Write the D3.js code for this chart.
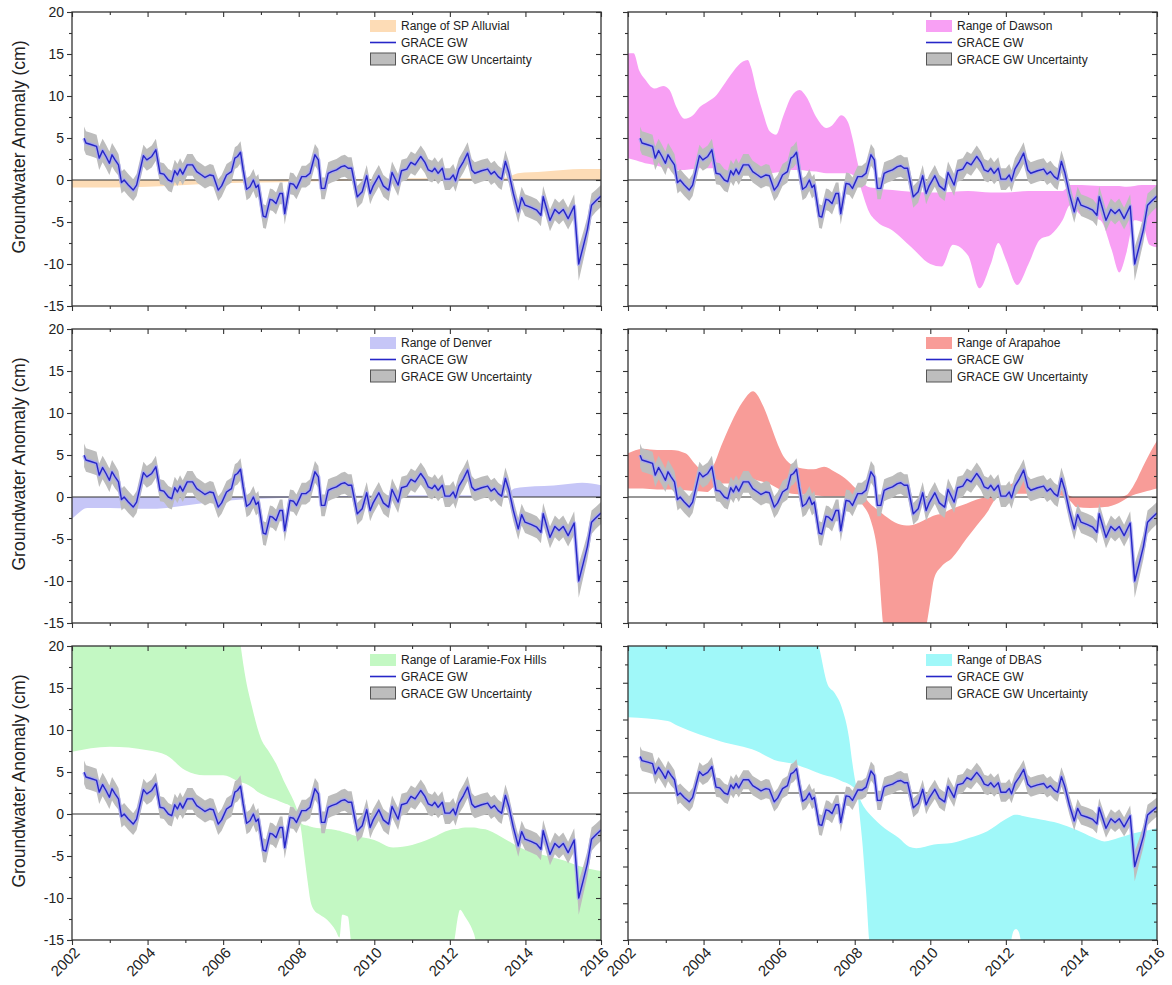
<!DOCTYPE html>
<html><head><meta charset="utf-8">
<script src="https://cdn.jsdelivr.net/npm/d3@7"></script>
<style>body{margin:0;background:#fff}svg{display:block}text{font-family:Arial,"Liberation Sans",sans-serif;fill:#222}</style>
</head><body><svg id="c" width="1172" height="985"></svg>
<script>
// ---------- GRACE groundwater anomaly (cm) ----------
const graceTime = [
 2002.32,2002.37,2002.52,2002.65,2002.72,2002.81,2002.90,2002.99,2003.06,2003.14,
 2003.23,2003.31,2003.38,2003.49,2003.62,2003.71,2003.89,2003.98,2004.11,2004.22,
 2004.33,2004.43,2004.55,2004.64,2004.72,2004.79,2004.86,2004.93,2005.05,2005.19,
 2005.30,2005.43,2005.52,2005.65,2005.74,2005.87,2005.96,2006.09,2006.22,2006.31,
 2006.38,2006.46,2006.53,2006.62,2006.71,2006.80,2006.87,2006.93,2007.06,2007.13,
 2007.24,2007.31,2007.40,2007.50,2007.57,2007.63,2007.77,2007.86,2007.94,2008.08,
 2008.19,2008.30,2008.43,2008.52,2008.60,2008.69,2008.78,2008.87,2009.00,2009.13,
 2009.22,2009.31,2009.40,2009.55,2009.68,2009.80,2009.89,2009.97,2010.12,2010.24,
 2010.38,2010.47,2010.63,2010.72,2010.86,2010.97,2011.08,2011.23,2011.34,2011.43,
 2011.53,2011.60,2011.69,2011.80,2011.87,2012.00,2012.09,2012.15,2012.24,2012.36,
 2012.47,2012.58,2012.66,2012.84,2013.00,2013.09,2013.18,2013.28,2013.37,2013.47,
 2013.56,2013.68,2013.81,2013.90,2013.99,2014.16,2014.30,2014.41,2014.47,2014.65,
 2014.78,2014.89,2015.00,2015.13,2015.29,2015.41,2015.53,2015.64,2015.75,2015.86,2016.00];
const graceGW = [
 4.96,4.4,4.2,4.0,2.6,3.5,2.8,2.0,3.0,2.4,
 1.8,-0.3,0.0,-0.6,-1.2,-0.6,2.9,2.4,2.8,3.6,
 0.8,0.7,0.0,-0.2,1.1,0.6,1.3,0.7,1.8,1.8,
 1.0,0.6,0.3,0.6,0.5,-1.2,-0.7,0.6,1.0,2.6,
 2.8,3.3,1.2,-1.1,-0.8,0.0,-0.9,-0.6,-4.3,-4.4,
 -2.3,-2.4,-2.8,-1.6,-1.6,-4.0,-0.4,-0.5,-1.0,0.4,
 0.4,0.8,3.0,2.4,-1.0,-1.0,0.8,1.0,1.2,1.6,
 1.7,1.4,1.4,-2.0,-1.4,0.5,-1.6,-0.7,0.5,-0.7,
 -1.2,0.9,-0.6,1.1,1.3,2.1,1.8,2.8,2.1,1.2,
 1.0,1.4,0.8,1.4,0.1,0.1,0.6,-0.1,1.3,2.2,
 3.2,1.2,0.8,1.1,1.3,0.7,1.0,0.4,0.1,2.2,
 0.9,-1.6,-3.8,-2.1,-3.0,-3.3,-3.6,-4.2,-2.0,-4.8,
 -3.5,-4.0,-3.5,-4.6,-3.1,-10.0,-7.9,-5.9,-3.0,-2.5,-1.9];
const graceUnc = [
 1.4,1.4,1.4,1.4,1.4,1.4,1.4,1.4,1.4,1.4,
 1.3,1.3,1.3,1.3,1.3,1.3,1.3,1.3,1.3,1.3,
 1.3,1.3,1.3,1.3,1.3,1.3,1.3,1.3,1.3,1.3,
 1.3,1.3,1.3,1.3,1.3,1.3,1.3,1.3,1.3,1.3,
 1.3,1.3,1.3,1.3,1.3,1.3,1.3,1.3,1.4,1.4,
 1.3,1.3,1.3,1.3,1.3,1.3,1.3,1.3,1.3,1.3,
 1.3,1.3,1.3,1.3,1.3,1.3,1.3,1.3,1.3,1.3,
 1.3,1.3,1.3,1.3,1.3,1.3,1.3,1.3,1.3,1.3,
 1.3,1.3,1.3,1.3,1.3,1.3,1.3,1.3,1.3,1.3,
 1.3,1.3,1.3,1.3,1.3,1.3,1.3,1.3,1.3,1.3,
 1.3,1.3,1.3,1.3,1.3,1.3,1.3,1.3,1.3,1.3,
 1.3,1.3,1.3,1.3,1.3,1.3,1.3,1.3,1.3,1.3,
 1.3,1.3,1.3,1.3,1.4,2.0,1.7,1.5,1.4,1.3,1.3];

// ---------- Aquifer ranges (cm) ----------
const spTime = [2002.0,2002.5,2003,2004,2005,2006,2007,2008,2009,2010,2011,2012,2013,2013.5,2013.8,2014.5,2015,2015.5,2016];
const spLo   = [-0.9,-0.9,-0.9,-0.8,-0.6,-0.4,-0.3,-0.2,-0.1,0,0,0,0,0,0,0,0,0,0];
const spHi   = [0,0,0,0,0,0,0,0.1,0.1,0.1,0.2,0.2,0.2,0.3,0.8,1.0,1.2,1.3,1.3];

const dwTime = [2002.0,2002.15,2002.3,2002.45,2002.7,2002.93,2003.1,2003.28,2003.5,2003.72,2003.9,2004.1,2004.3,2004.5,2004.78,2005.04,2005.17,2005.25,2005.4,2005.58,2005.75,2005.92,2006.1,2006.32,2006.54,2006.72,2006.98,2007.25,2007.4,2007.65,2007.82,2007.95,2008.08,2008.2,2008.35,2008.6,2009.0,2009.5,2010.0,2010.3,2010.6,2011.0,2011.3,2011.6,2011.8,2012.0,2012.3,2012.6,2012.9,2013.2,2013.5,2013.7,2014.0,2014.5,2014.8,2015.0,2015.2,2015.4,2015.6,2015.8,2016.0];
const dwHi = [15.1,15.1,13.0,12.0,10.9,11.2,10.7,8.7,7.3,7.7,8.7,9.3,9.9,11.1,12.9,14.1,14.3,13.5,10.7,7.9,5.8,5.4,7.5,9.9,10.7,9.9,7.5,6.2,6.5,7.7,6.9,4.8,2.0,0.0,-0.8,-1.0,-1.2,-1.4,-1.5,-1.5,-1.4,-1.3,-1.4,-1.5,-1.5,-1.5,-1.4,-1.3,-1.3,-1.3,-1.3,-0.6,-0.6,-0.7,-0.7,-0.7,-0.8,-0.7,-0.6,-0.6,-0.6];
const dwLo = [2.6,2.4,2.2,2.0,1.8,1.5,1.4,1.2,1.2,1.3,1.4,1.4,1.4,1.2,1.0,1.1,1.2,1.2,1.0,0.9,0.8,0.9,1.0,1.2,1.2,1.1,1.0,0.8,0.8,0.8,0.8,0.6,0.2,-1.5,-3.5,-5.0,-6.0,-8.0,-10.0,-10.3,-7.7,-9.0,-12.9,-10.0,-7.5,-9.5,-12.5,-10.0,-7.1,-6.5,-4.8,-3.0,-4.2,-4.8,-8.3,-11.0,-8.5,-4.8,-5.0,-7.7,-8.0];

const dvTime = [2002.0,2002.15,2002.4,2003,2004,2004.5,2005,2005.5,2006,2006.5,2007,2008,2009,2010,2011,2012,2013,2013.5,2013.7,2014,2014.5,2015,2015.5,2016];
const dvLo   = [-2.6,-2.0,-1.3,-1.3,-1.4,-1.3,-1.0,-0.7,-0.5,-0.3,-0.2,-0.1,0,0,0,0,0,0,0,0,0,0,0,0];
const dvHi   = [0,0,0,0,0,0,0,0,0,0,0.1,0.1,0.1,0.2,0.2,0.2,0.2,0.3,1.0,1.2,1.3,1.5,1.7,1.4];

const arTime = [2002.0,2002.39,2002.77,2003.15,2003.52,2003.8,2004.09,2004.27,2004.46,2004.74,2005.03,2005.31,2005.4,2005.59,2005.78,2005.97,2006.15,2006.34,2006.62,2006.91,2007.19,2007.47,2007.75,2008.03,2008.22,2008.41,2008.6,2008.79,2009.16,2009.44,2009.82,2009.91,2010.0,2010.1,2010.29,2010.57,2010.95,2011.23,2011.51,2011.7,2011.79,2011.98,2012.17,2012.36,2012.92,2013.39,2013.58,2013.77,2013.86,2014.24,2014.61,2014.99,2015.18,2015.36,2015.65,2015.83,2016.0];
const arHi = [5.2,5.75,5.6,5.6,5.2,3.8,2.6,3.8,6.0,8.9,11.3,12.6,12.3,10.7,8.5,6.2,4.6,3.8,3.4,3.3,3.6,3.0,2.2,1.0,0.2,-0.8,-1.5,-2.2,-3.2,-3.4,-2.8,-2.6,-2.4,-2.2,-2.0,-1.4,-0.8,-0.3,0.1,0.5,1.0,1.2,1.6,2.2,1.8,1.0,0.5,0.0,0.0,0.0,0.0,0.0,0.2,1.2,3.8,5.4,6.7];
const arLo = [1.0,1.0,0.9,0.9,0.8,0.7,0.6,1.2,1.6,1.6,2.0,2.1,2.0,1.8,1.5,1.0,0.6,0.4,0.3,0.2,0.1,0.1,0.1,-0.2,-1.0,-2.6,-6.5,-16,-17,-17,-17,-15,-12.5,-9.7,-8.3,-7.3,-5.0,-3.4,-1.8,-0.4,0.0,0.2,0.3,0.4,0.4,0.2,0.0,-0.8,-1.2,-1.3,-1.2,-0.7,-0.2,0.2,0.6,0.8,1.0];

const lfTime = [2002.0,2003.0,2004.0,2004.5,2005.0,2005.5,2006.0,2006.35,2006.45,2006.6,2006.75,2007.0,2007.2,2007.4,2007.6,2007.8,2007.95,2008.05,2008.15,2008.25,2008.3,2008.4,2008.56,2008.75,2008.98,2009.08,2009.15,2009.3,2009.42,2010.0,2010.5,2011.0,2011.5,2012.0,2012.12,2012.2,2012.27,2012.4,2012.64,2012.75,2013.0,2013.5,2014.0,2014.5,2015.0,2015.5,2016.0];
const lfHi = [24,24,24,24,24,24,24,24,20.5,16,13,9,7.5,6,4,2.2,0.6,-1.0,-1.3,-1.4,-1.5,-1.6,-1.7,-1.8,-1.9,-2.0,-2.1,-2.3,-2.5,-3.1,-4.0,-3.7,-2.9,-1.9,-1.8,-1.8,-1.7,-1.6,-1.6,-1.7,-1.9,-3.1,-4.3,-4.9,-5.5,-6.3,-6.8];
const lfLo = [7.4,8.0,7.6,7.0,5.2,4.6,4.6,4.0,3.8,3.6,3.2,2.4,2.0,1.7,1.3,0.9,0.2,-1.5,-5.0,-8.5,-10.1,-11.4,-12.0,-12.6,-13.9,-14.7,-12.0,-12.2,-16,-16,-16,-16,-16,-16,-15.0,-12.6,-11.4,-12.2,-14.3,-16,-16,-16,-16,-16,-16,-16,-16];

const dbTime = [2002.0,2003.05,2003.33,2004.46,2005.4,2005.87,2006.34,2006.9,2007.0,2007.05,2007.28,2007.47,2007.66,2007.85,2007.94,2008.0,2008.07,2008.12,2008.2,2008.3,2008.41,2008.79,2009.16,2009.44,2009.63,2010.1,2010.57,2011.04,2011.51,2011.98,2012.12,2012.2,2012.27,2012.35,2012.42,2012.92,2013.39,2013.86,2014.33,2014.61,2014.99,2015.36,2015.65,2016.0];
const dbHi = [24,24,24,24,24,24,24,24,21,20,14.8,13.6,11.6,7.5,4.0,2.0,0.4,-0.5,-1.5,-2.3,-2.95,-4.8,-6.1,-7.3,-7.5,-7.0,-6.8,-6.1,-5.2,-3.6,-3.2,-3.0,-2.95,-3.0,-3.1,-3.6,-4.1,-5.0,-6.1,-6.6,-6.1,-5.5,-5.2,-4.8];
const dbLo = [10.3,9.8,9.1,7.0,5.7,4.5,4.0,3.0,2.8,2.7,2.3,2.05,1.6,1.2,0.9,0.6,0.0,-2.5,-6.6,-13.4,-21,-22,-22,-22,-22,-22,-22,-22,-22,-22,-20.5,-18.8,-18.5,-19.0,-20.5,-22,-22,-22,-22,-22,-22,-22,-22,-22];

const yearTicks = [2002,2004,2006,2008,2010,2012,2014,2016];
const yearMinor = [2003,2005,2007,2009,2011,2013,2015];
const legendLabels = ["GRACE GW","GRACE GW Uncertainty"];
const yTitle = "Groundwater Anomaly (cm)";

const panels = [
 {name:"Range of SP Alluvial", color:"#fddcb6", t:spTime, lo:spLo, hi:spHi, col:0, row:0, domain:[-15,20]},
 {name:"Range of Dawson", color:"#f8a0f4", t:dwTime, lo:dwLo, hi:dwHi, col:1, row:0, domain:[-15,20]},
 {name:"Range of Denver", color:"#c6c6f7", t:dvTime, lo:dvLo, hi:dvHi, col:0, row:1, domain:[-15,20]},
 {name:"Range of Arapahoe", color:"#f89c98", t:arTime, lo:arLo, hi:arHi, col:1, row:1, domain:[-15,20]},
 {name:"Range of Laramie-Fox Hills", color:"#c3f8c3", t:lfTime, lo:lfLo, hi:lfHi, col:0, row:2, domain:[-15,20]},
 {name:"Range of DBAS", color:"#a0f8f9", t:dbTime, lo:dbLo, hi:dbHi, col:1, row:2, domain:[-20,20]}
];

const svg = d3.select("#c");
const W = 529, H = 294;
const colX = [72, 628], rowY = [12, 329, 646];
const grace = graceTime.map((t,i)=>({t, v:graceGW[i], u:graceUnc[i]}));

panels.forEach((p,i)=>{
  const g = svg.append("g").attr("transform",`translate(${colX[p.col]},${rowY[p.row]})`);
  const x = d3.scaleLinear().domain([2002,2016]).range([0,W]);
  const y = d3.scaleLinear().domain(p.domain).range([H,0]);
  const cid = "clip"+i;
  g.append("clipPath").attr("id",cid).append("rect").attr("width",W).attr("height",H);
  const pg = g.append("g").attr("clip-path",`url(#${cid})`);
  const band = p.t.map((t,j)=>({t, lo:p.lo[j], hi:p.hi[j]}));
  pg.append("path").datum(band).attr("fill",p.color)
    .attr("d", d3.area().x(d=>x(d.t)).y0(d=>y(d.lo)).y1(d=>y(d.hi)).curve(d3.curveMonotoneX));
  pg.append("line").attr("x1",0).attr("x2",W).attr("y1",y(0)).attr("y2",y(0))
    .attr("stroke","#333").attr("stroke-width",1.1);
  pg.append("path").datum(grace).attr("fill","#bdbdbd")
    .attr("d", d3.area().x(d=>x(d.t)).y0(d=>y(d.v-d.u)).y1(d=>y(d.v+d.u)));
  const ln = d3.line().x(d=>x(d.t)).y(d=>y(d.v));
  pg.append("path").datum(grace).attr("fill","none").attr("stroke","#a4a4f4").attr("stroke-width",4).attr("stroke-opacity",0.75).attr("stroke-linejoin","round").attr("d",ln);
  pg.append("path").datum(grace).attr("fill","none").attr("stroke","#2626c8").attr("stroke-width",1.4).attr("stroke-linejoin","round").attr("d",ln);

  // axes
  const yMajor = d3.range(p.domain[0], p.domain[1]+0.01, 5);
  const yMin = d3.range(p.domain[0]+2.5, p.domain[1], 5);
  const styleAx = sel => { sel.select(".domain").remove(); sel.selectAll("line").attr("stroke","#333").attr("stroke-width",1.1); };
  const bottomRow = p.row===2, leftCol = p.col===0;
  g.append("g").attr("transform",`translate(0,${H})`)
    .call(d3.axisBottom(x).tickValues(yearTicks).tickSize(5).tickFormat("")).call(styleAx);
  g.append("g").attr("transform",`translate(0,${H})`)
    .call(d3.axisBottom(x).tickValues(yearMinor).tickSize(3).tickFormat("")).call(styleAx);
  g.append("g").call(d3.axisBottom(x).tickValues(yearTicks).tickSize(5).tickFormat("")).call(styleAx);
  g.append("g").call(d3.axisBottom(x).tickValues(yearMinor).tickSize(3).tickFormat("")).call(styleAx);
  const la = g.append("g").call(d3.axisLeft(y).tickValues(yMajor).tickSize(5).tickPadding(3)
      .tickFormat(d=> (leftCol && p.domain[0]===-15) ? String(d) : "")).call(styleAx);
  la.selectAll("text").attr("font-size",14).style("font-family","Arial, 'Liberation Sans', sans-serif").attr("fill","#222");
  g.append("g").call(d3.axisLeft(y).tickValues(yMin).tickSize(3).tickFormat("")).call(styleAx);
  g.append("g").attr("transform",`translate(${W},0)`).call(d3.axisLeft(y).tickValues(yMajor).tickSize(5).tickFormat("")).call(styleAx);
  g.append("g").attr("transform",`translate(${W},0)`).call(d3.axisLeft(y).tickValues(yMin).tickSize(3).tickFormat("")).call(styleAx);
  g.append("rect").attr("width",W).attr("height",H).attr("fill","none").attr("stroke","#333").attr("stroke-width",1.3);

  if (bottomRow) {
    g.selectAll(".xl").data(yearTicks).enter().append("text")
      .attr("transform", d=>`translate(${x(d)+5},${H+10}) rotate(-45)`)
      .attr("text-anchor","end").attr("dy","0.35em").attr("font-size",15).text(d=>d);
  }
  if (leftCol) {
    g.append("text").attr("transform",`translate(-47,${H/2 - 12}) rotate(-90)`)
      .attr("text-anchor","middle").attr("font-size",17.5).text(yTitle);
  }
  // legend
  const lg = g.append("g").attr("transform","translate(298,0)");
  lg.append("rect").attr("x",0).attr("y",8).attr("width",26).attr("height",12).attr("fill",p.color);
  lg.append("line").attr("x1",0).attr("x2",26).attr("y1",30.5).attr("y2",30.5).attr("stroke","#2626c8").attr("stroke-width",1.6);
  lg.append("rect").attr("x",0.5).attr("y",41).attr("width",25).attr("height",12).attr("fill","#bdbdbd").attr("stroke","#555").attr("stroke-width",1);
  const texts = [p.name].concat(legendLabels);
  const ys = [14, 30.5, 47.5];
  texts.forEach((s,k)=> lg.append("text").attr("x",31).attr("y",ys[k]).attr("dy","0.35em").attr("font-size",12).text(s));
});
</script></body></html>
